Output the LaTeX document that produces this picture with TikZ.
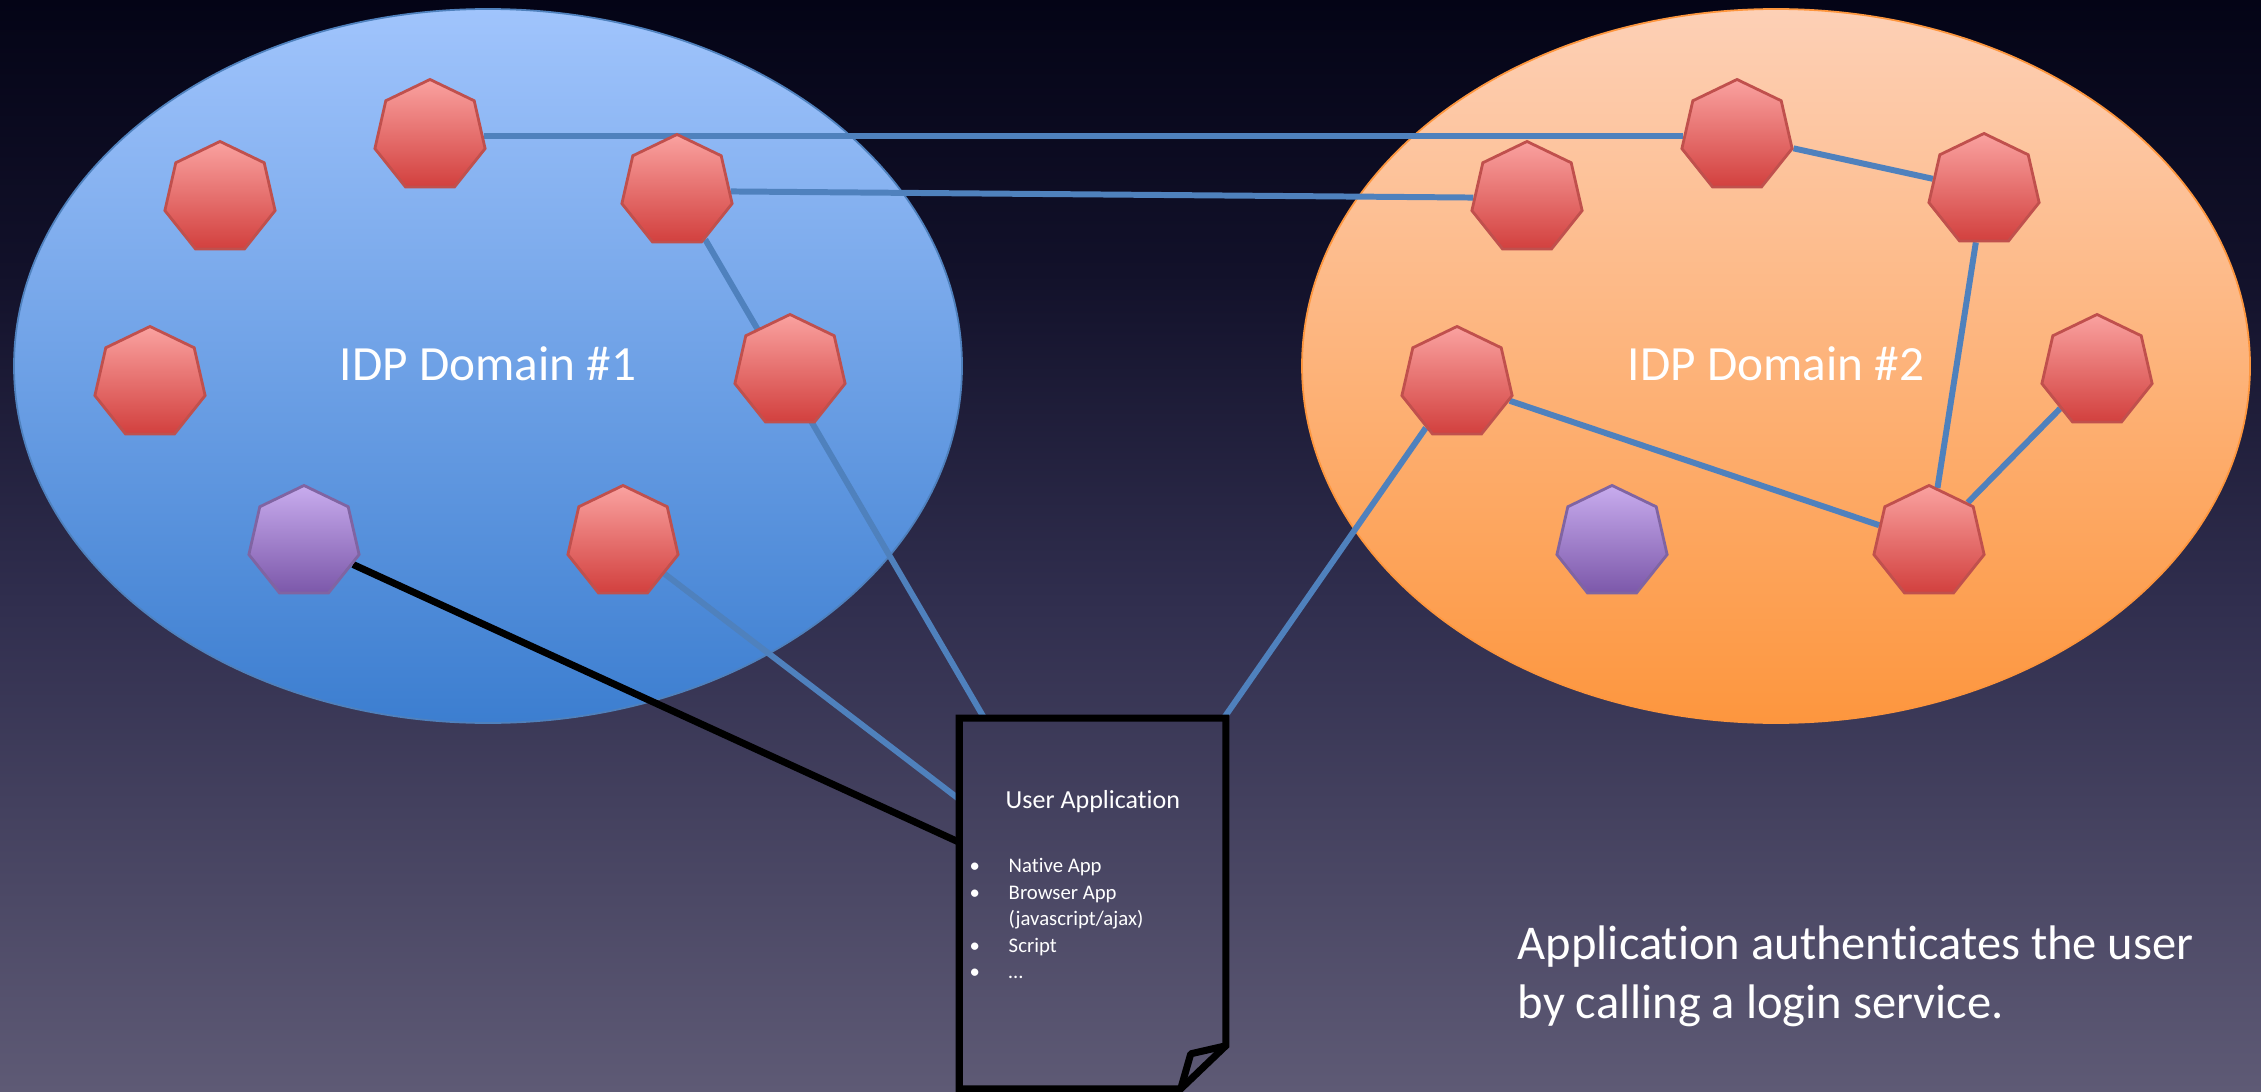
\documentclass[tikz,border=0pt]{standalone}
\usepackage{fontspec}
\setmainfont{Carlito}[Ligatures=CommonOff]
\usepackage{tikz}
\usetikzlibrary{shapes.geometric}

\definecolor{bgtop}{RGB}{4,4,22}
\definecolor{bgmidt}{RGB}{18,17,42}
\definecolor{bgmidb}{RGB}{48,46,78}
\definecolor{bgbot}{RGB}{94,90,117}
\definecolor{domAtop}{RGB}{160,196,252}
\definecolor{domAbot}{RGB}{60,126,208}
\definecolor{domBtop}{RGB}{253,208,182}
\definecolor{domBbot}{RGB}{253,150,62}
\definecolor{idptop}{RGB}{250,162,160}
\definecolor{idpbot}{RGB}{210,64,62}
\definecolor{idpedge}{RGB}{192,80,77}
\definecolor{usrtop}{RGB}{200,172,238}
\definecolor{usrbot}{RGB}{124,88,170}
\definecolor{usredge}{RGB}{128,100,162}
\definecolor{linkblue}{RGB}{79,129,189}

\pgfdeclareverticalshading{slidebg}{100bp}{color(0bp)=(bgbot); color(25bp)=(bgbot); color(47.5bp)=(bgmidb); color(62.5bp)=(bgmidt); color(75bp)=(bgtop); color(100bp)=(bgtop)}
\pgfdeclarelayer{back}
\pgfdeclarelayer{wires}
\pgfsetlayers{back,wires,main}

\tikzset{
  idp/.style={regular polygon, regular polygon sides=7, minimum size=1.13cm, inner sep=0pt,
    draw=idpedge, line width=0.8pt, top color=idptop, bottom color=idpbot},
  usr/.style={idp, draw=usredge, top color=usrtop, bottom color=usrbot},
  link/.style={draw=linkblue, line width=1.7pt},
  domtext/.style={text=white, inner sep=0pt, font=\fontsize{14}{17}\selectfont},
  apptext/.style={text=white, inner sep=0pt, anchor=base west, font=\fontsize{5.9}{7.5}\selectfont},
}

\begin{document}
\begin{tikzpicture}[x=0.01cm, y=-0.01cm]
    \begin{pgfonlayer}{back}
    \shade[shading=slidebg] (0,0) rectangle (2261,1091);
    \draw[draw=linkblue, line width=0.5pt, top color=domAtop, bottom color=domAbot] (488,366) ellipse [x radius=474, y radius=357];
    \draw[draw=domBbot, line width=0.5pt, top color=domBtop, bottom color=domBbot] (1776,366) ellipse [x radius=474, y radius=357];
    \end{pgfonlayer}
    \useasboundingbox (0,0) rectangle (2261,1091);

    % domain 1
    \node[idp] (a1) at (430,136) {};
    \node[idp] (a2) at (220,198) {};
    \node[idp] (a3) at (677,191) {};
    \node[idp] (a4) at (150,383) {};
    \node[idp] (a5) at (790,371) {};
    \node[idp] (a6) at (623,542) {};
    \node[usr] (ua) at (304,542) {};
    \node[domtext, anchor=base] (namea) at (488,380) {IDP Domain \#1};

    % domain 2
    \node[idp] (b1) at (1737,136) {};
    \node[idp] (b2) at (1527,198) {};
    \node[idp] (b3) at (1984,190) {};
    \node[idp] (b4) at (1457,383) {};
    \node[idp] (b5) at (2097,371) {};
    \node[idp] (b6) at (1929,542) {};
    \node[usr] (ub) at (1612,542) {};
    \node[domtext, anchor=base] (nameb) at (1776,380) {IDP Domain \#2};

    % user application
    \node[minimum width=2.65cm, minimum height=3.69cm, inner sep=0pt] (app) at (1092.5,903.5) {};
    \draw[line width=2pt] (app.north west) -- (app.north east) -- ([yshift=0.43cm]app.south east)
        -- ([xshift=-0.45cm]app.south east) -- (app.south west) -- cycle;
    \draw[line width=2pt, line join=round] ([xshift=-0.45cm]app.south east) -- ([xshift=-0.35cm, yshift=0.35cm]app.south east)
        -- ([yshift=0.43cm]app.south east);
    \node[apptext, font=\fontsize{7.4}{9}\selectfont] (apptitle) at (1005,808) {User Application};
    \node[apptext] (item1) at (969,872) {\makebox[11.1pt][l]{\textbullet}Native App};
    \node[apptext] (item2) at (969,899) {\makebox[11.1pt][l]{\textbullet}Browser App};
    \node[apptext] (item3) at (1008,925) {(javascript/ajax)};
    \node[apptext] (item4) at (969,952) {\makebox[11.1pt][l]{\textbullet}Script};
    \node[apptext] (item5) at (969,978) {\makebox[11.1pt][l]{\textbullet}…};

    \begin{pgfonlayer}{wires}
    \draw[link] (a1) -- (b1);
    \draw[link] (a3) -- (b2);
    \draw[link] (b1) -- (b3);
    \draw[link] (b3) -- (b6);
    \draw[link] (b4) -- (b6);
    \draw[link] (b5) -- (b6);
    \draw[link] (a3) -- ([xshift=0.25cm]app.north west);
    \draw[link] (a6) -- ([yshift=-0.81cm]app.north west);
    \draw[link] (b4) -- ([xshift=-0.02cm]app.north east);
    \draw[line width=2pt] (ua) -- ([yshift=-1.24cm]app.north west);
    \end{pgfonlayer}

    % base of a multi-line node is its last line
    \node[text=white, inner sep=0pt, anchor=base west, align=left, font=\fontsize{13.8}{16.5}\selectfont] (note) at (1517,1018)
        {Application authenticates the user\\by calling a login service.};
\end{tikzpicture}
\end{document}
